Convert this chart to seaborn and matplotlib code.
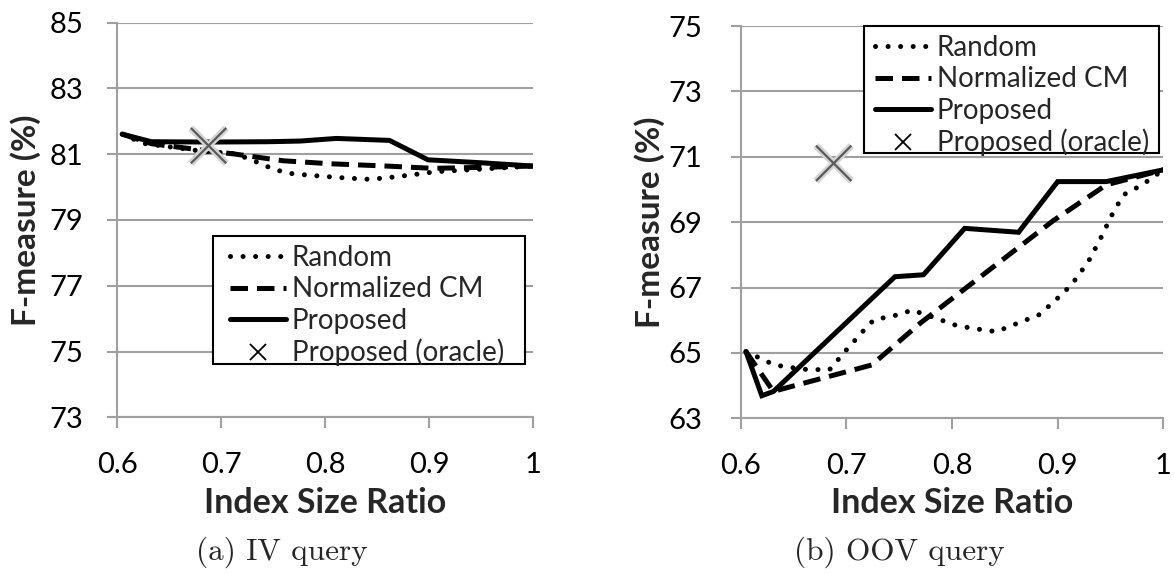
import matplotlib
matplotlib.use("Agg")
import matplotlib.pyplot as plt
import matplotlib.patheffects as pe
from matplotlib.lines import Line2D
from matplotlib.patches import Rectangle
import seaborn as sns

# ---- data: IV query ----
iv_random_x = [0.605, 0.625, 0.680, 0.712, 0.728, 0.750, 0.765, 0.789, 0.814, 0.840, 0.856, 0.883, 0.907, 0.936, 1.0]
iv_random_y = [81.61, 81.33, 81.10, 81.02, 80.85, 80.55, 80.42, 80.35, 80.29, 80.24, 80.27, 80.37, 80.47, 80.52, 80.64]
iv_ncm_x = [0.605, 0.633, 0.680, 0.712, 0.760, 0.805, 0.859, 0.904, 0.950, 1.0]
iv_ncm_y = [81.61, 81.32, 81.13, 81.01, 80.80, 80.71, 80.64, 80.57, 80.60, 80.64]
iv_prop_x = [0.605, 0.633, 0.690, 0.745, 0.776, 0.811, 0.862, 0.899, 0.950, 1.0]
iv_prop_y = [81.61, 81.38, 81.37, 81.38, 81.40, 81.48, 81.42, 80.83, 80.74, 80.64]
iv_oracle_x = [0.688]
iv_oracle_y = [81.26]

# ---- data: OOV query ----
oov_random_x = [0.605, 0.632, 0.659, 0.684, 0.700, 0.716, 0.726, 0.751, 0.762, 0.776, 0.805,
                0.830, 0.842, 0.860, 0.882, 0.896, 0.913, 0.929, 0.940, 0.951, 0.962, 0.980, 1.0]
oov_random_y = [65.04, 64.63, 64.50, 64.48, 65.09, 65.67, 66.01, 66.18, 66.31, 66.16, 65.83,
                65.70, 65.65, 65.88, 66.16, 66.55, 67.08, 67.79, 68.46, 69.20, 69.83, 70.14, 70.60]
oov_ncm_x = [0.605, 0.631, 0.642, 0.724, 0.770, 0.896, 0.946, 1.0]
oov_ncm_y = [65.04, 63.82, 63.92, 64.63, 65.91, 69.05, 70.14, 70.60]
oov_prop_x = [0.605, 0.620, 0.631, 0.746, 0.773, 0.812, 0.863, 0.900, 0.946, 1.0]
oov_prop_y = [65.04, 63.69, 63.82, 67.33, 67.39, 68.81, 68.69, 70.24, 70.24, 70.60]
oov_oracle_x = [0.688]
oov_oracle_y = [70.80]

series_labels = ["Random", "Normalized CM", "Proposed", "Proposed (oracle)"]
x_ticks = [0.6, 0.7, 0.8, 0.9, 1.0]
x_ticklabels = ["0.6", "0.7", "0.8", "0.9", "1"]
iv_yticks = [73, 75, 77, 79, 81, 83, 85]
oov_yticks = [63, 65, 67, 69, 71, 73, 75]
x_title = "Index Size Ratio"
y_title = "F-measure (%)"
captions = ["(a) IV query", "(b) OOV query"]

sns.set_style("white")
plt.rcParams["font.family"] = ["Lato", "DejaVu Sans"]

GRID = "#a0a0a0"
LW = 3.6
DOT = (0, (0.01, 2.5))
DASH = (0, (3.5, 1.8))

fig = plt.figure(figsize=(11.74, 5.74), dpi=100)
ax_iv = fig.add_axes([0.0997, 0.2730, 0.3543, 0.6875])
ax_oov = fig.add_axes([0.6309, 0.2713, 0.3600, 0.6834])


def draw_panel(ax, rx, ry, nx, ny, px, py, ox, oy, yticks):
    sns.lineplot(x=rx, y=ry, ax=ax, color="black", linewidth=LW,
                 linestyle=DOT, dash_capstyle="round")
    sns.lineplot(x=nx, y=ny, ax=ax, color="black", linewidth=LW,
                 linestyle=DASH, dash_capstyle="butt")
    sns.lineplot(x=px, y=py, ax=ax, color="black", linewidth=LW,
                 solid_joinstyle="miter")
    sns.scatterplot(x=ox, y=oy, ax=ax, marker="x", s=650, color="#5a5a5a",
                    linewidth=1.6, zorder=5,
                    path_effects=[pe.Stroke(linewidth=5, foreground="#d4d4d4"), pe.Normal()])

    ax.set_xlim(0.6, 1.0)
    ax.set_ylim(yticks[0], yticks[-1])
    ax.set_xticks(x_ticks)
    ax.set_xticklabels(x_ticklabels)
    ax.set_yticks(yticks)
    ax.set_yticklabels([str(v) for v in yticks])

    ax.grid(False)
    ax.yaxis.grid(True, color=GRID, linewidth=1.5)
    ax.set_axisbelow(True)
    for side in ("top", "right"):
        ax.spines[side].set_visible(False)
    for side in ("left", "bottom"):
        ax.spines[side].set_color(GRID)
        ax.spines[side].set_linewidth(1.5)
    ax.tick_params(axis="x", direction="out", length=8, width=1.5, color=GRID,
                   pad=17, labelsize=21, labelcolor="black", bottom=True)
    ax.tick_params(axis="y", direction="out", length=7.5, width=1.5, color=GRID,
                   labelsize=21, labelcolor="black", left=True)

    ax.set_xlabel(x_title, fontsize=24.5, fontweight="bold", va="center")
    ax.xaxis.set_label_coords(0.5, -0.217)
    ax.set_ylabel(y_title, fontsize=24, fontweight="bold", va="center")

    handles = [
        Line2D([], [], color="black", linewidth=LW, linestyle=DOT, dash_capstyle="round"),
        Line2D([], [], color="black", linewidth=LW, linestyle=DASH),
        Line2D([], [], color="black", linewidth=LW),
        Line2D([], [], color="black", linestyle="none", marker="x",
               markersize=12, markeredgewidth=1.3),
    ]
    return handles


def add_legend(ax, handles, anchor, frame):
    # boxed legend: white frame drawn as its own patch, entries placed inside it
    ax.add_patch(Rectangle(frame[:2], frame[2], frame[3], transform=ax.transAxes,
                           facecolor="white", edgecolor="black", linewidth=1.5,
                           zorder=4, clip_on=False))
    leg = ax.legend(handles, series_labels, loc="upper left", bbox_to_anchor=anchor,
                    borderaxespad=0, borderpad=0, fontsize=20, frameon=False,
                    handlelength=2.0, handletextpad=0.22, labelspacing=0.19)
    leg.set_zorder(5)
    return leg


h = draw_panel(ax_iv, iv_random_x, iv_random_y, iv_ncm_x, iv_ncm_y,
               iv_prop_x, iv_prop_y, iv_oracle_x, iv_oracle_y, iv_yticks)
ax_iv.tick_params(axis="y", pad=17)
ax_iv.yaxis.set_label_coords(-0.221, 0.5)
add_legend(ax_iv, h, (0.2716, 0.4367), (0.2300, 0.1351, 0.7507, 0.3251))

h = draw_panel(ax_oov, oov_random_x, oov_random_y, oov_ncm_x, oov_ncm_y,
               oov_prop_x, oov_prop_y, oov_oracle_x, oov_oracle_y, oov_yticks)
ax_oov.tick_params(axis="y", pad=20)
ax_oov.yaxis.set_label_coords(-0.2146, 0.5)
add_legend(ax_oov, h, (0.3178, 0.9771), (0.2918, 0.6770, 0.6988, 0.3230))

fig.text(0.2402, 0.0244, captions[0], family="cmr10", fontsize=22.5,
         ha="center", va="baseline")
fig.text(0.7658, 0.0244, captions[1], family="cmr10", fontsize=22.5,
         ha="center", va="baseline")

fig.savefig("out.png", dpi=100, facecolor="white")
